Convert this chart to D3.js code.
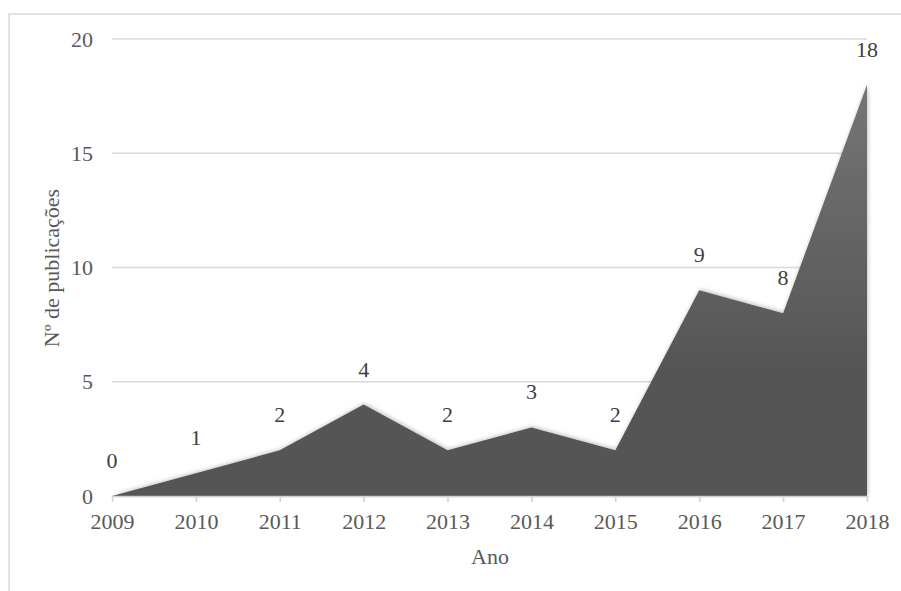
<!DOCTYPE html>
<html><head><meta charset="utf-8">
<script src="https://cdn.jsdelivr.net/npm/d3@7"></script>
<style>body{margin:0;background:#fff}svg{display:block}text{font-family:"Liberation Serif","Times New Roman",serif}</style>
</head><body>
<script>
const years = [2009,2010,2011,2012,2013,2014,2015,2016,2017,2018];
const publications = [0,1,2,4,2,3,2,9,8,18];
const yTicks = [0,5,10,15,20];
const yTitle = "Nº de publicações";
const xTitle = "Ano";

(function(){
const W = 901, H = 591, FS = 22;
const svg = d3.select("body").append("svg").attr("width", W).attr("height", H);
const mLeft = 112, mRight = 867, mTop = 39, mBottom = 496;

svg.append("rect").attr("x", 9).attr("y", 14).attr("width", 960).attr("height", 700)
  .attr("fill", "none").attr("stroke", "#d9d9d9").attr("stroke-width", 1.5);

const x = d3.scalePoint().domain(years).range([mLeft, mRight]);
const y = d3.scaleLinear().domain([0, 20]).range([mBottom, mTop]);

const defs = svg.append("defs");
const grad = defs.append("linearGradient").attr("id", "g").attr("gradientUnits", "userSpaceOnUse")
  .attr("x1", 0).attr("x2", 0).attr("y1", y(18)).attr("y2", mBottom);
grad.append("stop").attr("offset", 0).attr("stop-color", "#757575");
grad.append("stop").attr("offset", 0.7).attr("stop-color", "#555");
grad.append("stop").attr("offset", 1).attr("stop-color", "#545454");
const f = defs.append("filter").attr("id", "sh").attr("x", "-10%").attr("y", "-10%").attr("width", "120%").attr("height", "120%");
f.append("feDropShadow").attr("dx", 1).attr("dy", -1).attr("stdDeviation", 2).attr("flood-color", "#000").attr("flood-opacity", 0.25);

svg.append("g").selectAll("line").data(yTicks.filter(d => d > 0)).join("line")
  .attr("x1", mLeft).attr("x2", mRight).attr("y1", d => y(d)).attr("y2", d => y(d))
  .attr("stroke", "#d9d9d9").attr("stroke-width", 1.5);

const area = d3.area().x((d, i) => x(years[i])).y0(y(0)).y1(d => y(d));
svg.append("path").datum(publications).attr("d", area).attr("fill", "url(#g)").attr("filter", "url(#sh)");

const xa = svg.append("g").attr("transform", `translate(0,${mBottom})`)
  .call(d3.axisBottom(x).tickSize(6).tickSizeOuter(0).tickPadding(11));
xa.select(".domain").attr("stroke", "#d0d0d0").attr("stroke-width", 1.5);
xa.selectAll(".tick line").attr("stroke", "#d0d0d0").attr("stroke-width", 1.5);
xa.selectAll("text").attr("font-size", FS).attr("fill", "#595959").attr("font-family", "Liberation Serif");

const ya = svg.append("g").attr("transform", `translate(${mLeft},0)`)
  .call(d3.axisLeft(y).tickValues(yTicks).tickSize(0).tickPadding(19));
ya.select(".domain").remove();
ya.selectAll("text").attr("font-size", FS).attr("fill", "#595959").attr("font-family", "Liberation Serif");

svg.append("g").selectAll("text").data(publications).join("text")
  .attr("x", (d, i) => x(years[i])).attr("y", d => y(d) - 28)
  .attr("text-anchor", "middle").attr("font-size", FS).attr("fill", "#404040")
  .text(d => d);

svg.append("text").attr("transform", `translate(59,268) rotate(-90)`)
  .attr("text-anchor", "middle").attr("font-size", FS).attr("fill", "#595959").text(yTitle);
svg.append("text").attr("x", 490).attr("y", 564).attr("text-anchor", "middle")
  .attr("font-size", FS).attr("fill", "#595959").text(xTitle);
})();
</script>
</body></html>
